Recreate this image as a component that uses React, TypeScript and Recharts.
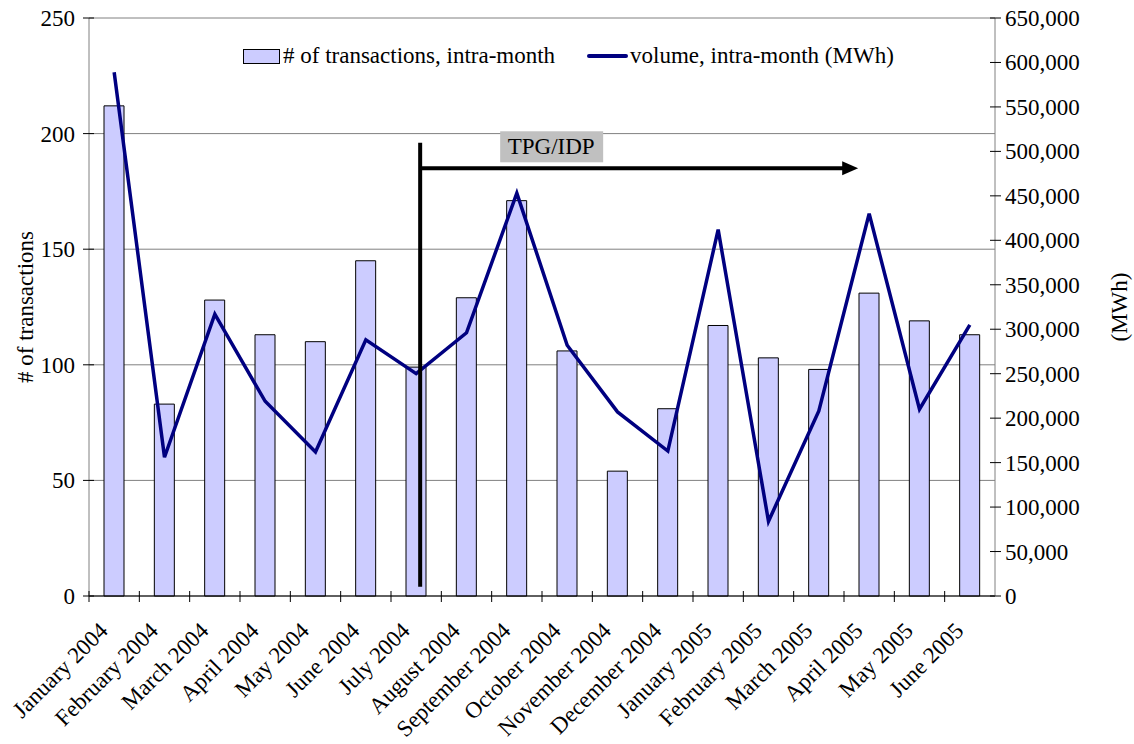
import { ComposedChart, Bar, Line, XAxis, YAxis, CartesianGrid, Legend, ReferenceLine } from "recharts";

const months = [
  "January 2004", "February 2004", "March 2004", "April 2004", "May 2004", "June 2004",
  "July 2004", "August 2004", "September 2004", "October 2004", "November 2004", "December 2004",
  "January 2005", "February 2005", "March 2005", "April 2005", "May 2005", "June 2005",
];
const transactions = [212, 83, 128, 113, 110, 145, 99, 129, 171, 106, 54, 81, 117, 103, 98, 131, 119, 113];
const volume = [
  589000, 156000, 317000, 219000, 162000, 288000, 250000, 296000, 453000,
  282000, 207000, 163000, 412000, 84000, 208000, 430000, 210000, 305000,
];
const leftTicks = [0, 50, 100, 150, 200, 250];
const rightTicks = [0, 50000, 100000, 150000, 200000, 250000, 300000, 350000, 400000, 450000, 500000, 550000, 600000, 650000];

const data = months.map((m, i) => ({ month: m, transactions: transactions[i], volume: volume[i] }));

const FONT = '"Times New Roman", Times, "Liberation Serif", "Noto Serif", "DejaVu Serif", serif';
const FS = 23;
const W = 1134;
const H = 744;
const LEFT_W = 89;
const RIGHT_W = 139;
const BAND = (W - LEFT_W - RIGHT_W) / months.length;

const LeftTick = ({ x, y, payload }: any) => (
  <g>
    <line x1={x - 6} x2={x + 5} y1={y} y2={y} stroke="#000" />
    <text x={x - 14} y={y} dy={8} textAnchor="end" fontSize={FS} style={{ fontFamily: FONT }} fill="#000">
      {payload.value}
    </text>
  </g>
);

const RightTick = ({ x, y, payload }: any) => (
  <g>
    <line x1={x - 5} x2={x + 6} y1={y} y2={y} stroke="#000" />
    <text x={x + 10} y={y} dy={8} textAnchor="start" fontSize={FS} style={{ fontFamily: FONT }} fill="#000">
      {payload.value.toLocaleString("en-US")}
    </text>
  </g>
);

const BottomTick = ({ x, y, payload }: any) => (
  <g>
    <line x1={x - BAND / 2} x2={x - BAND / 2} y1={y - 5} y2={y + 6} stroke="#000" />
    <text
      x={x - 5}
      y={y + 36}
      textAnchor="end"
      fontSize={FS}
      style={{ fontFamily: FONT }}
      fill="#000"
      transform={`rotate(-45, ${x - 5}, ${y + 36})`}
    >
      {payload.value}
    </text>
  </g>
);

const LeftLabel = ({ viewBox }: any) => {
  const cx = 25;
  const cy = viewBox.y + viewBox.height / 2;
  return (
    <text x={cx} y={cy} transform={`rotate(-90, ${cx}, ${cy})`} textAnchor="middle" dominantBaseline="central" fontSize={FS} style={{ fontFamily: FONT }} fill="#000">
      # of transactions
    </text>
  );
};

const RightLabel = ({ viewBox }: any) => {
  const cx = 1119;
  const cy = viewBox.y + viewBox.height / 2;
  return (
    <text x={cx} y={cy} transform={`rotate(-90, ${cx}, ${cy})`} textAnchor="middle" dominantBaseline="central" fontSize={FS} style={{ fontFamily: FONT }} fill="#000">
      (MWh)
    </text>
  );
};

const MarkerLine = (props: any) => {
  const { x1, y1, y2 } = props;
  return <line x1={x1 + 4} y1={y1} x2={x1 + 4} y2={y2} stroke="#000" strokeWidth={4} />;
};

const ArrowShape = (props: any) => {
  const { x1, y1, x2 } = props;
  const start = x1 + 4;
  const tip = x2 - 11;
  return (
    <g>
      <line x1={start} y1={y1} x2={tip - 12} y2={y1} stroke="#000" strokeWidth={4} />
      <polygon points={`${tip},${y1} ${tip - 16},${y1 - 7} ${tip - 16},${y1 + 7}`} fill="#000" />
      <rect x={x1 + 84} y={y1 - 37} width={103} height={31} fill="#c0c0c0" />
      <text x={x1 + 135} y={y1 - 14} textAnchor="middle" fontSize={FS} style={{ fontFamily: FONT }} fill="#000">
        TPG/IDP
      </text>
    </g>
  );
};

const renderLegend = () => (
  <div style={{ display: "flex", alignItems: "center", fontFamily: FONT, fontSize: FS, color: "#000", whiteSpace: "nowrap" }}>
    <div style={{ display: "flex", alignItems: "center", width: 344 }}>
      <span style={{ display: "inline-block", width: 35, height: 13, background: "#ccccff", border: "1px solid #000", marginRight: 3 }} />
      <span># of transactions, intra-month</span>
    </div>
    <span style={{ display: "inline-block", width: 41, height: 4, borderRadius: 2, background: "#000080", marginRight: 2 }} />
    <span>volume, intra-month (MWh)</span>
  </div>
);

export default function App() {
  return (
    <div style={{ position: "absolute", left: 0, top: 0, width: W, height: H, background: "#fff", fontFamily: FONT }}>
      <ComposedChart width={W} height={H} data={data} margin={{ top: 18, right: 0, bottom: 0, left: 0 }}>
        <CartesianGrid yAxisId="left" vertical={false} stroke="#808080" />
        <XAxis
          dataKey="month"
          height={H - 596}
          interval={0}
          tick={<BottomTick />}
          tickLine={false}
          tickSize={0}
          tickMargin={0}
          stroke="#000"
        />
        <YAxis
          yAxisId="left"
          orientation="left"
          width={LEFT_W}
          domain={[0, 250]}
          ticks={leftTicks}
          tick={<LeftTick />}
          tickLine={false}
          tickSize={0}
          tickMargin={0}
          stroke="#808080"
          label={<LeftLabel />}
        />
        <YAxis
          yAxisId="right"
          orientation="right"
          width={RIGHT_W}
          domain={[0, 650000]}
          ticks={rightTicks}
          tick={<RightTick />}
          tickLine={false}
          tickSize={0}
          tickMargin={0}
          stroke="#808080"
          label={<RightLabel />}
        />
        <Legend
          layout="horizontal"
          verticalAlign="middle"
          align="center"
          content={renderLegend}
          wrapperStyle={{ position: "absolute", top: 43, left: 243, width: 700 }}
        />
        <Bar
          yAxisId="left"
          dataKey="transactions"
          name="# of transactions, intra-month"
          fill="#ccccff"
          stroke="#000"
          strokeWidth={1}
          barSize={20}
          isAnimationActive={false}
        />
        <Line
          yAxisId="right"
          dataKey="volume"
          name="volume, intra-month (MWh)"
          type="linear"
          stroke="#000080"
          strokeWidth={3.5}
          dot={false}
          activeDot={false}
          isAnimationActive={false}
        />
        <ReferenceLine
          yAxisId="left"
          segment={[{ x: "July 2004", y: 4 }, { x: "July 2004", y: 196 }]}
          shape={<MarkerLine />}
        />
        <ReferenceLine
          yAxisId="left"
          segment={[{ x: "July 2004", y: 185 }, { x: "April 2005", y: 185 }]}
          shape={<ArrowShape />}
        />
      </ComposedChart>
    </div>
  );
}
